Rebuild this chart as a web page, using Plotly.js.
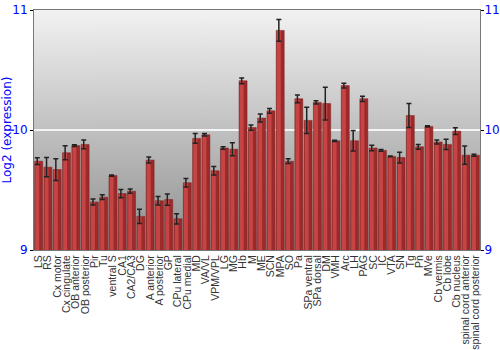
<!DOCTYPE html>
<html>
<head>
<meta charset="utf-8">
<script src="https://cdn.plot.ly/plotly-3.0.1.min.js"></script>
<style>html,body{margin:0;padding:0;background:#fff;}#chart{width:500px;height:350px;}</style>
</head>
<body>
<div id="chart"></div>
<script>
var categories = ["LS","RS","Cx motor","Cx cingulate","OB anterior","OB posterior","Pir","Tu","ventral S","CA1","CA2/CA3","DG","A anterior","A posterior","GP","CPu lateral","CPu medial","MD","VA/VL","VPM/VPL","LG","MG","Hb","M","ME","SCN","MPA","SO","Pa","SPa ventral","SPa dorsal","DM","VMH","Arc","LH","PAG","SC","IC","VTA","SN","Tg","Pn","MVe","Cb vermis","Cb lobe","Cb nucleus","spinal cord anterior","spinal cord posterior"];
var values = [9.74,9.69,9.67,9.81,9.87,9.88,9.40,9.44,9.62,9.47,9.49,9.28,9.75,9.41,9.42,9.26,9.56,9.93,9.96,9.66,9.85,9.84,10.41,10.02,10.10,10.16,10.83,9.74,10.26,10.08,10.23,10.22,9.91,10.37,9.91,10.26,9.85,9.83,9.78,9.77,10.12,9.86,10.03,9.90,9.88,9.99,9.79,9.79];
var errors = [0.028,0.08,0.09,0.058,0.008,0.036,0.026,0.02,0.005,0.035,0.018,0.06,0.025,0.036,0.047,0.043,0.036,0.04,0.01,0.035,0.01,0.054,0.024,0.022,0.033,0.02,0.09,0.02,0.032,0.11,0.014,0.136,0.005,0.02,0.086,0.022,0.022,0.008,0.003,0.044,0.10,0.02,0.005,0.017,0.043,0.028,0.076,0.008];
var yTicks = [9, 10, 11];

// background gradient image
var cv = document.createElement('canvas');
cv.width = 4; cv.height = 240;
var ctx = cv.getContext('2d');
var g = ctx.createLinearGradient(0, 0, 0, 240);
g.addColorStop(0, '#f2f2f2');
g.addColorStop(1, '#8e8e8e');
ctx.fillStyle = g;
ctx.fillRect(0, 0, 4, 240);
var bgURL = cv.toDataURL('image/png');

var blue = '#0000ff';
var traces = [
  {
    type: 'bar', x: categories, y: values, width: 0.86,
    marker: {color: '#9c2a2a', line: {color: '#7a1e1e', width: 0.5}},
    hoverinfo: 'skip', showlegend: false
  },
  {
    type: 'bar', x: categories, y: values, width: 0.42, offset: -0.36,
    marker: {color: '#c64444', line: {width: 0}},
    error_y: {type: 'data', array: errors, visible: true, color: '#222222', thickness: 1.5, width: 2.5},
    hoverinfo: 'skip', showlegend: false
  },
  {
    type: 'scatter', mode: 'markers', x: categories, y: values, yaxis: 'y2',
    marker: {opacity: 0}, hoverinfo: 'skip', showlegend: false
  }
];

var layout = {
  width: 500, height: 350,
  margin: {l: 34, r: 20, t: 10, b: 100},
  paper_bgcolor: '#ffffff',
  plot_bgcolor: 'rgba(0,0,0,0)',
  barmode: 'overlay',
  showlegend: false,
  images: [{source: bgURL, xref: 'paper', yref: 'paper', x: 0, y: 1, sizex: 1, sizey: 1, sizing: 'stretch', layer: 'below'}],
  xaxis: {
    type: 'category', tickangle: -90, ticks: '', showgrid: false,
    range: [-0.5, categories.length - 0.5],
    tickmode: 'array', tickvals: categories, ticktext: categories,
    showline: true, mirror: true, linecolor: '#777777', linewidth: 1,
    tickfont: {family: 'Liberation Sans, Arial, sans-serif', size: 10.5, color: '#333333'},
    automargin: false
  },
  yaxis: {
    range: [9, 11], tickvals: yTicks, ticktext: yTicks.map(String),
    ticks: 'outside', ticklen: 3, tickcolor: '#000000',
    showline: true, linecolor: '#777777', linewidth: 1,
    showgrid: true, gridcolor: '#f4f4f4', gridwidth: 1.5, zeroline: false,
    tickfont: {family: 'DejaVu Sans, sans-serif', size: 12, color: blue},
    title: {text: 'Log2 (expression)', font: {family: 'DejaVu Sans, sans-serif', size: 12, color: blue}, standoff: 4},
    automargin: false
  },
  yaxis2: {
    range: [9, 11], tickvals: yTicks, ticktext: yTicks.map(String),
    overlaying: 'y', side: 'right', anchor: 'x',
    ticks: 'outside', ticklen: 3, tickcolor: '#000000',
    ticklabelstandoff: -2,
    showline: true, linecolor: '#777777', linewidth: 1,
    showgrid: false, zeroline: false,
    tickfont: {family: 'DejaVu Sans, sans-serif', size: 12, color: blue},
    automargin: false
  }
};

Plotly.newPlot('chart', traces, layout, {displayModeBar: false, staticPlot: true});
</script>
</body>
</html>
